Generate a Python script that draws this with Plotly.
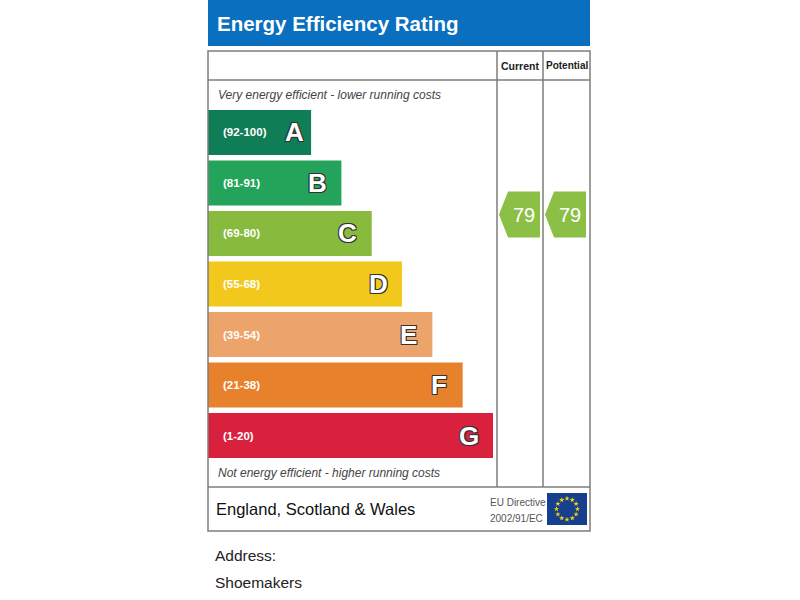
import math
import plotly.graph_objects as go

# ---------------- data ----------------
bands = ["A", "B", "C", "D", "E", "F", "G"]
band_ranges = ["(92-100)", "(81-91)", "(69-80)", "(55-68)", "(39-54)", "(21-38)", "(1-20)"]
band_low = [92, 81, 69, 55, 39, 21, 1]
band_high = [100, 91, 80, 68, 54, 38, 20]
band_length = [1, 2, 3, 4, 5, 6, 7]
columns = ["Current", "Potential"]
scores = [79, 79]
title_text = "Energy Efficiency Rating"
top_note = "Very energy efficient - lower running costs"
bottom_note = "Not energy efficient - higher running costs"
region_text = "England, Scotland & Wales"
directive_lines = ["EU Directive", "2002/91/EC"]
address_lines = ["Address:", "Shoemakers"]

# ---------------- style ----------------
band_colors = ["#0f7d55", "#23a45a", "#88ba3e", "#f2c81c", "#eca46a", "#e8812c", "#d9213e"]
arrow_color = "#8cbf45"
header_blue = "#0b6fbf"
line_gray = "#7d7d7d"
W, H = 800, 600
SANS = "Liberation Sans, Arial, sans-serif"
MIN_LEN = 2.4  # bar length offset (so the shortest band is not tiny)


def px(x):
    return x / W


def py(y):
    return 1 - y / H


def score_pos(s):
    for i, (lo, hi) in enumerate(zip(band_low, band_high)):
        if lo <= s <= hi:
            return i + 0.5 - (s - lo + 0.5) / (hi - lo + 1)
    return 0


fig = go.Figure()

# rating bars
fig.add_trace(go.Bar(
    y=list(range(len(bands))),
    x=[v + MIN_LEN for v in band_length],
    base=0,
    orientation="h",
    width=0.89,
    marker=dict(color=band_colors, line=dict(width=0)),
    hoverinfo="skip",
    xaxis="x", yaxis="y",
))

# rating arrows (current / potential)
ax, ay = [], []
for i, s in enumerate(scores):
    yc = score_pos(s)
    h = 0.455
    ax += [i - 0.457, i - 0.26, i + 0.435, i + 0.435, i - 0.26, i - 0.457, None]
    ay += [yc, yc - h, yc - h, yc + h, yc + h, yc, None]
fig.add_trace(go.Scatter(
    x=ax, y=ay, mode="lines", fill="toself", fillcolor=arrow_color,
    line=dict(width=0, color=arrow_color), hoverinfo="skip",
    xaxis="x2", yaxis="y",
))

# EU flag stars (decoration, pixel axes)
cx, cy, r = 567, 509, 10.5
sx = [cx + r * math.cos(2 * math.pi * k / 12) for k in range(12)]
sy = [cy + r * math.sin(2 * math.pi * k / 12) for k in range(12)]
fig.add_trace(go.Scatter(
    x=sx, y=sy, mode="markers",
    marker=dict(symbol="star", size=4, color="#f4d60c", line=dict(width=0)),
    hoverinfo="skip", xaxis="x3", yaxis="y3",
))

ann = []
letter_shift = {"A": -17}
for i, b in enumerate(bands):
    ann.append(dict(x=0, y=i, xref="x", yref="y", text=band_ranges[i],
                    xanchor="left", yanchor="middle", xshift=13, showarrow=False,
                    font=dict(family=SANS, size=11.5, color="white", weight="bold")))
    ann.append(dict(x=band_length[i] + MIN_LEN, y=i, xref="x", yref="y", text=b,
                    xanchor="center", yanchor="middle", xshift=letter_shift.get(b, -24),
                    showarrow=False,
                    font=dict(family=SANS, size=26, color="white", weight="bold",
                              shadow="-1px -1px 0 #333, 1px -1px 0 #333, -1px 1px 0 #333, 1px 1px 0 #333")))

for i, s in enumerate(scores):
    ann.append(dict(x=i + 0.09, y=score_pos(s), xref="x2", yref="y", text=str(s),
                    xanchor="center", yanchor="middle", showarrow=False,
                    font=dict(family=SANS, size=20, color="white")))


def text(x, y, t, size, color="#222", anchor="left", family=SANS, **kw):
    ann.append(dict(x=px(x), y=py(y), xref="paper", yref="paper", text=t,
                    xanchor=anchor, yanchor="middle", showarrow=False,
                    font=dict(family=family, size=size, color=color, **kw)))


text(215, 23, title_text, 20.5, color="white", weight="bold")
text(520, 66, columns[0], 10.5, anchor="center", weight="bold")
text(566.5, 66, columns[1], 10, anchor="center", weight="bold")
text(216, 95, top_note, 12, color="#444", style="italic")
text(216, 473, bottom_note, 12, color="#444", style="italic")
text(214, 509, region_text, 16.5, color="#111")
text(488, 502, directive_lines[0], 10, color="#555")
text(488, 518, directive_lines[1], 10, color="#555")
text(213, 555, address_lines[0], 15.5, color="#222")
text(213, 582, address_lines[1], 15.5, color="#222")

shapes = []


def rect(x0, y0, x1, y1, **kw):
    shapes.append(dict(type="rect", xref="paper", yref="paper",
                       x0=px(x0), x1=px(x1), y0=py(y1), y1=py(y0), **kw))


def line(x0, y0, x1, y1):
    shapes.append(dict(type="line", xref="paper", yref="paper",
                       x0=px(x0), x1=px(x1), y0=py(y0), y1=py(y1),
                       line=dict(color=line_gray, width=1.5)))


rect(208, 0, 590, 46, fillcolor=header_blue, line=dict(width=0), layer="below")
rect(208, 51, 590, 531, fillcolor="rgba(0,0,0,0)", line=dict(color=line_gray, width=1.5))
line(208, 80, 590, 80)
line(497, 51, 497, 487)
line(543, 51, 543, 487)
line(208, 487, 590, 487)
rect(547, 493, 587, 525, fillcolor="#163f8d", line=dict(width=0), layer="below")

hidden = dict(visible=False, showgrid=False, zeroline=False, fixedrange=True)
fig.update_layout(
    width=W, height=H,
    margin=dict(l=0, r=0, t=0, b=0),
    paper_bgcolor="white", plot_bgcolor="rgba(0,0,0,0)",
    showlegend=False,
    xaxis=dict(domain=[px(208), px(493)], range=[0, 9.4], anchor="y", **hidden),
    yaxis=dict(domain=[py(460.75), py(107.25)], range=[6.5, -0.5], anchor="x", **hidden),
    xaxis2=dict(domain=[px(497), px(589)], range=[-0.5, 1.5], anchor="y", **hidden),
    xaxis3=dict(domain=[0, 1], range=[0, W], anchor="y3", **hidden),
    yaxis3=dict(domain=[0, 1], range=[H, 0], anchor="x3", **hidden),
    annotations=ann,
    shapes=shapes,
)

fig.write_html("out.html",
               config={"displayModeBar": False, "staticPlot": True},
               post_script="document.body.style.margin='0';document.body.style.overflow='hidden';")
